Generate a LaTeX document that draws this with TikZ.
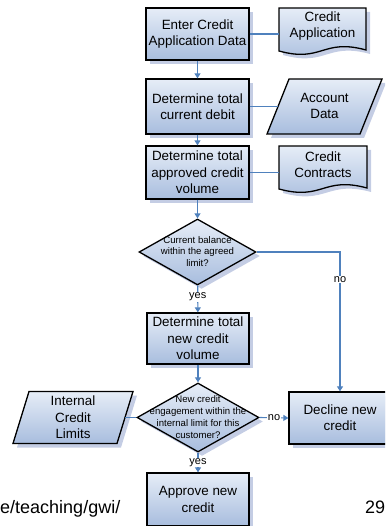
\documentclass[tikz,border=0pt]{standalone}
\usepackage{fontspec}
\setmainfont{Liberation Sans}
\usetikzlibrary{shapes.geometric,arrows.meta,shadows}

\definecolor{flow}{HTML}{4F81BD}
\definecolor{fillTop}{RGB}{230,237,247}
\definecolor{fillBot}{RGB}{168,189,222}
\definecolor{shadowc}{RGB}{196,205,228}

% outline of a document symbol: left x, top y, width
\newcommand\docoutline[3]{(#1,#2) -- ++(#3,0) -- ++(0,42)
  .. controls +(-0.5*#3,-12) and +(0.5*#3,12) .. (#1,#2+43) -- cycle}
% outline of a data parallelogram: left-mid x, right-mid x, top y, bottom y, half slant
\newcommand\paraoutline[5]{(#1+#5,#3) -- (#2+#5,#3) -- (#2-#5,#4) -- (#1-#5,#4) -- cycle}

\tikzset{
  shapeline/.style={draw=black, line width=1.3bp},
  shadefill/.style={top color=fillTop, bottom color=fillBot},
  boxshadow/.style={drop shadow={shadow xshift=4bp, shadow yshift=-4bp, fill=shadowc, opacity=1}},
  bigtext/.style={font=\fontsize{13.4bp}{16.3bp}\selectfont, align=center},
  smalltext/.style={font=\fontsize{9.6bp}{11.8bp}\selectfont, align=center, inner sep=0},
  process/.style={rectangle, shapeline, shadefill, boxshadow, bigtext,
    minimum width=102bp, inner sep=0},
  decision/.style={diamond, shapeline, shadefill, boxshadow, inner sep=0},
  datatext/.style={bigtext, inner sep=0},
  link/.style={draw=flow, line width=1.1bp},
  arrow/.style={link, -{Triangle[length=5bp,width=6bp]}},
  lbl/.style={font=\fontsize{11bp}{13bp}\selectfont, fill=white, inner sep=0.6bp, text=black},
}

\begin{document}
\begin{tikzpicture}[x=1bp, y=-1bp]
\useasboundingbox (0,0) rectangle (385,526);
\clip (0,0) rectangle (385,526);

% data sources beside the process chain
\fill[shadowc, shift={(4,4)}] \docoutline{279}{8}{87};
\path[shadefill, shapeline] \docoutline{279}{8}{87};
\fill[shadowc, shift={(4,4)}] \paraoutline{278}{371}{79}{134}{11};
\path[shadefill, shapeline] \paraoutline{278}{371}{79}{134}{11};
\fill[shadowc, shift={(4,4)}] \docoutline{279}{146}{88};
\path[shadefill, shapeline] \docoutline{279}{146}{88};
\fill[shadowc, shift={(4,4)}] \paraoutline{21}{125}{391.5}{443.5}{8};
\path[shadefill, shapeline] \paraoutline{21}{125}{391.5}{443.5}{8};

\node[datatext, minimum width=87bp, minimum height=36bp] (capp) at (322.5,26) {Credit\\Application};
\node[datatext, minimum width=93bp, minimum height=55bp] (acct) at (324.5,106) {Account\\Data};
\node[datatext, minimum width=88bp, minimum height=36bp] (contr) at (323,165) {Credit\\Contracts};
\node[datatext, minimum width=104bp, minimum height=52bp] (icl) at (73,417.5) {Internal\\Credit\\Limits};

% main process chain
\node[process, minimum width=103bp, minimum height=52bp] (enter) at (197.5,34) {Enter Credit\\Application Data};
\node[process, minimum width=103bp, minimum height=55bp] (debit) at (197.5,106.5) {Determine total\\current debit};
\node[process, minimum width=103bp, minimum height=53bp] (approved) at (197.5,172.5) {Determine total\\approved credit\\volume};
\node[decision, minimum width=117bp, minimum height=66bp] (d1) at (197.5,252) {};
\node[smalltext] (d1t) at (197.5,251.5) {Current balance\\within the agreed\\limit?};
\node[process, minimum height=51bp] (newvol) at (198,338.5) {Determine total\\new credit\\volume};
\node[decision, minimum width=122bp, minimum height=69bp] (d2) at (198,417.5) {};
\node[smalltext] (d2t) at (198,417) {New credit\\engagement within the\\internal limit for this\\customer?};
\node[process, minimum height=53bp] (approve) at (198,499.5) {Approve new\\credit};
\node[process, minimum height=52bp] (decline) at (340,418) {Decline new\\credit};

% connectors
\draw[arrow] (enter) -- (debit);
\draw[arrow] (debit) -- (approved);
\draw[arrow] (approved) -- (d1);
\draw[arrow] (d1) -- node[lbl, pos=0.43] {yes} (newvol);
\draw[arrow] (newvol) -- (d2);
\draw[arrow] (d2) -- node[lbl, pos=0.5] {yes} (approve);
\draw[arrow] (d1.east) -| node[lbl, pos=0.6] {no} (decline.north);
\draw[arrow] (d2.east) -- node[lbl, pos=0.5] {no} (decline.west);

\draw[link] (enter.east) -- (enter.east -| capp.west);
\draw[link] (debit.east) -- (debit.east -| acct.west);
\draw[link] (approved.east) -- (approved.east -| contr.west);
\draw[link] (icl.east) -- (d2.west);

% slide footer
\node[anchor=base west, inner sep=0, font=\fontsize{18bp}{20bp}\selectfont] (url) at (0,513) {e/teaching/gwi/};
\node[anchor=base west, inner sep=0, font=\fontsize{18bp}{20bp}\selectfont] (page) at (365,513) {29};
\end{tikzpicture}
\end{document}
